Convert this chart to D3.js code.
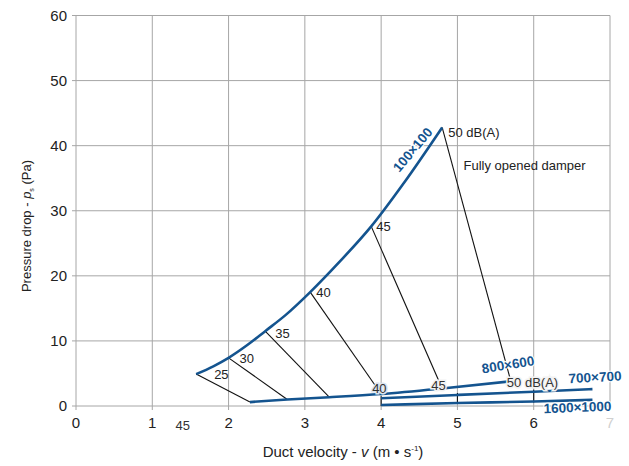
<!DOCTYPE html>
<html>
<head>
<meta charset="utf-8">
<script src="https://cdn.jsdelivr.net/npm/d3@7"></script>
<style>
  body { margin: 0; background: #fff; }
  svg text { font-family: "Liberation Sans", Arial, sans-serif; }
</style>
</head>
<body>
<svg id="canvas" width="629" height="466"></svg>
<script>
// tick values
let xTicks = [0, 1, 2, 3, 4, 5, 6, 7];
let yTicks = [0, 10, 20, 30, 40, 50, 60];

// duct curves [velocity, pressure drop]
let duct100 = [[1.575, 4.9], [1.8, 6.1], [2.0, 7.4], [2.25, 9.4], [2.48, 11.5], [2.75, 14.0],
               [3.07, 17.5], [3.45, 22.1], [3.87, 27.6], [4.3, 34.3], [4.8, 42.8]];
let duct800 = [[2.28, 0.6], [2.77, 1.0], [3.32, 1.35], [4.0, 1.85], [4.8, 2.7], [5.7, 3.8]];
let duct700 = [[4.0, 1.2], [5.0, 1.7], [6.0, 2.2], [6.77, 2.6]];
let duct1600 = [[4.0, 0.15], [5.0, 0.45], [6.0, 0.7], [6.77, 0.95]];

// sound level lines, small duct -> 800x600
let dbLevels = ['25', '30', '35', '40', '45', '50 dB(A)'];
let dbUpper = [[1.575, 4.9], [2.0, 7.4], [2.48, 11.5], [3.07, 17.5], [3.87, 27.6], [4.8, 42.8]];
let dbLower = [[2.28, 0.6], [2.77, 1.0], [3.32, 1.35], [4.0, 1.85], [4.8, 2.7], [5.7, 3.8]];

// sound level ticks across the big ducts
let bigDbV = [4.0, 5.0, 6.0];
let bigDbTop = [1.2, 1.7, 2.2];
let bigDbBottom = [0.15, 0.45, 0.7];

let blue = '#14548f';
let canvas = d3.select('#canvas');
let margin = {left: 76, right: 19, top: 15.5, bottom: 60};
let w = 629 - margin.left - margin.right;
let h = 466 - margin.top - margin.bottom;

let x = d3.scaleLinear().domain([0, 7]).range([margin.left, margin.left + w]);
let y = d3.scaleLinear().domain([0, 60]).range([margin.top + h, margin.top]);

// grid
canvas.append('g').selectAll('line').data(xTicks).enter().append('line')
    .attr('x1', d => x(d)).attr('x2', d => x(d))
    .attr('y1', y(60)).attr('y2', y(0) + 4)
    .attr('stroke', '#a6a6a6').attr('stroke-width', 1);
canvas.append('g').selectAll('line').data(yTicks).enter().append('line')
    .attr('x1', x(0) - 4).attr('x2', x(7))
    .attr('y1', d => y(d)).attr('y2', d => y(d))
    .attr('stroke', '#a6a6a6').attr('stroke-width', 1);

// tick labels
canvas.append('g').selectAll('text').data(yTicks).enter().append('text')
    .attr('x', x(0) - 9).attr('y', d => y(d) + 5)
    .attr('text-anchor', 'end').attr('font-size', 15).attr('fill', '#222')
    .text(d => d);
canvas.append('g').selectAll('text').data(xTicks).enter().append('text')
    .attr('x', d => x(d)).attr('y', y(0) + 22)
    .attr('text-anchor', 'middle').attr('font-size', 15)
    .attr('fill', d => d === 7 ? '#d0d0d0' : '#222')
    .text(d => d);

// axis titles
let yt = canvas.append('text')
    .attr('transform', 'translate(31,226) rotate(-90)')
    .attr('text-anchor', 'middle').attr('font-size', 13).attr('fill', '#222');
yt.append('tspan').text('Pressure drop - ');
yt.append('tspan').attr('font-style', 'italic').text('p');
yt.append('tspan').attr('font-size', 7).attr('dy', 3).text('s');
yt.append('tspan').attr('dy', -3).text(' (Pa)');

let xt = canvas.append('text')
    .attr('x', 343).attr('y', 457)
    .attr('text-anchor', 'middle').attr('font-size', 15).attr('fill', '#222');
xt.append('tspan').text('Duct velocity - ');
xt.append('tspan').attr('font-style', 'italic').text('v');
xt.append('tspan').text(' (m \u2022 s');
xt.append('tspan').attr('font-size', 8).attr('dy', -6).text('-1');
xt.append('tspan').attr('dy', 6).text(')');

// stray label below the axis
canvas.append('text').attr('x', x(1.4)).attr('y', y(0) + 24)
    .attr('text-anchor', 'middle').attr('font-size', 13).attr('fill', '#333').text('45');

// dB lines
canvas.append('g').selectAll('line').data(dbLevels).enter().append('line')
    .attr('x1', (d, i) => x(dbUpper[i][0])).attr('y1', (d, i) => y(dbUpper[i][1]))
    .attr('x2', (d, i) => x(dbLower[i][0])).attr('y2', (d, i) => y(dbLower[i][1]))
    .attr('stroke', '#111').attr('stroke-width', 1.1);
canvas.append('g').selectAll('line').data(bigDbV).enter().append('line')
    .attr('x1', d => x(d)).attr('x2', d => x(d))
    .attr('y1', (d, i) => y(bigDbTop[i]) - 2).attr('y2', (d, i) => y(bigDbBottom[i]) + 1)
    .attr('stroke', '#111').attr('stroke-width', 1.1);

// duct curves
let line = d3.line().x(d => x(d[0])).y(d => y(d[1])).curve(d3.curveMonotoneX);
[duct100, duct800, duct700, duct1600].forEach(c => {
    canvas.append('path').attr('d', line(c))
        .attr('fill', 'none').attr('stroke', blue).attr('stroke-width', 2.6);
});

// upper dB labels
let upOff = [[18, 5], [11, 5], [10, 7], [6, 5], [5, 5], [6, 10]];
canvas.append('g').selectAll('text').data(dbLevels).enter().append('text')
    .attr('x', (d, i) => x(dbUpper[i][0]) + upOff[i][0])
    .attr('y', (d, i) => y(dbUpper[i][1]) + upOff[i][1])
    .attr('font-size', 13).attr('fill', '#222')
    .text(d => d);

canvas.append('text').attr('x', x(5.08)).attr('y', y(36.2))
    .attr('font-size', 13).attr('fill', '#222').text('Fully opened damper');

// lower dB labels with halo
let lowLabels = ['40', '45', '50 dB(A)'];
let lowOff = [[-9, -1], [-11, 2], [-4, 6]];
canvas.append('g').selectAll('text').data(lowLabels).enter().append('text')
    .attr('x', (d, i) => x(dbLower[i + 3][0]) + lowOff[i][0])
    .attr('y', (d, i) => y(dbLower[i + 3][1]) + lowOff[i][1])
    .attr('font-size', 13).attr('fill', '#333')
    .attr('stroke', (d, i) => i === 0 ? '#dbe4ee' : '#f2f2f2').attr('stroke-width', 3)
    .attr('paint-order', 'stroke')
    .text(d => d);

// duct labels
let ductLabels = [
    {t: '100\u00d7100', v: 4.42, p: 39.3, r: -50, a: 'middle'},
    {t: '800\u00d7600', v: 5.33, p: 5.0, r: -9, a: 'start'},
    {t: '700\u00d7700', v: 6.46, p: 3.5, r: -3, a: 'start'},
    {t: '1600\u00d71000', v: 6.13, p: -1.1, r: -2, a: 'start'}
];
canvas.append('g').selectAll('text').data(ductLabels).enter().append('text')
    .attr('transform', d => 'translate(' + x(d.v) + ',' + y(d.p) + ') rotate(' + d.r + ')')
    .attr('text-anchor', d => d.a).attr('dy', d => d.a === 'middle' ? 4 : 0)
    .attr('font-size', 13.5).attr('font-weight', 'bold').attr('fill', blue)
    .attr('stroke', '#fff').attr('stroke-width', 2).attr('paint-order', 'stroke')
    .text(d => d.t);
</script>
</body>
</html>
